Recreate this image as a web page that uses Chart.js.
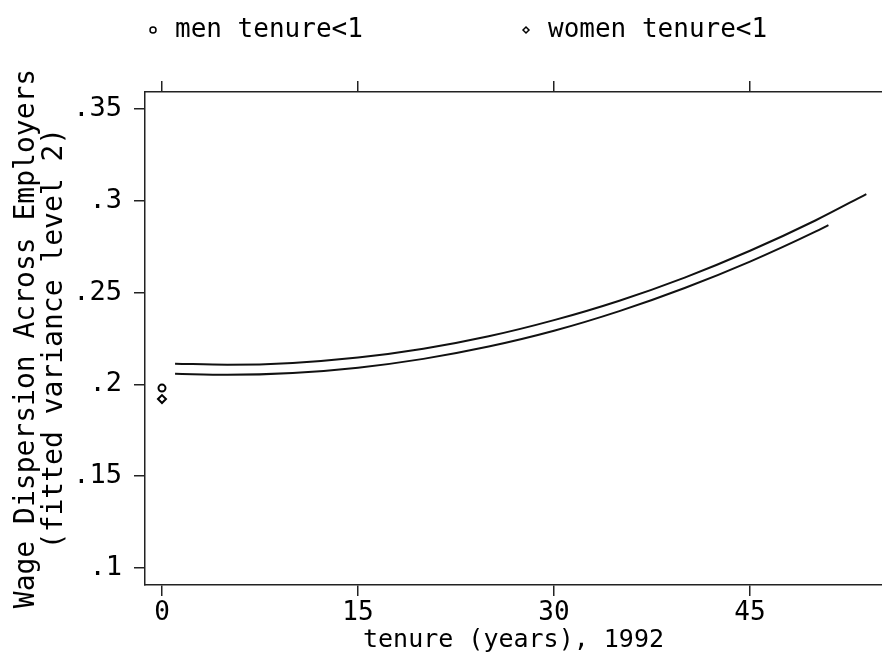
<!DOCTYPE html>
<html>
<head>
<meta charset="utf-8">
<script src="https://cdn.jsdelivr.net/npm/chart.js@4.4.1/dist/chart.umd.min.js"></script>
<style>
  html, body { margin: 0; padding: 0; background: #fff; }
  canvas { display: block; }
</style>
</head>
<body>
<canvas id="wageChart" width="882" height="659"></canvas>
<script>
// fitted level-2 variance by tenure, one curve per sex
const menTenure = [1, 5, 10, 15, 20, 25, 30, 35, 40, 45, 50, 53.9];
const menFit = [0.2113, 0.2107, 0.2117, 0.2146, 0.2194, 0.2262, 0.2350, 0.2456, 0.2582, 0.2728, 0.2893, 0.3037];
const womenTenure = [1, 5, 10, 15, 20, 25, 30, 35, 40, 45, 50, 51];
const womenFit = [0.2058, 0.2052, 0.2062, 0.2091, 0.2139, 0.2206, 0.2292, 0.2399, 0.2525, 0.2669, 0.2832, 0.2868];

// observed values for workers with tenure under one year
const shortTenure = [0];
const menShort = [0.1980];
const womenShort = [0.1920];

const xTicks = [0, 15, 30, 45];
const yTicks = [0.1, 0.15, 0.2, 0.25, 0.3, 0.35];

const FONT = '"DejaVu Sans Mono", monospace';

const toPoints = (xs, ys) => xs.map((x, i) => ({ x: x, y: ys[i] }));

// draws the marker + label row at the top of the canvas
const legendRow = {
  id: 'legendRow',
  afterDraw(chart, args, opts) {
    const ctx = chart.ctx;
    ctx.save();
    ctx.textBaseline = 'middle';
    ctx.textAlign = 'left';
    opts.items.forEach((item) => {
      const ds = chart.data.datasets[item.dataset];
      ctx.fillStyle = '#fff';
      ctx.strokeStyle = '#000';
      ctx.lineWidth = 1.5;
      Chart.helpers.drawPoint(ctx, { pointStyle: ds.pointStyle, radius: 3, borderWidth: 1.5 }, item.x, opts.y);
      ctx.fillStyle = '#000';
      ctx.font = opts.font;
      ctx.fillText(ds.label, item.x + 22, opts.y);
    });
    ctx.restore();
  },
};

const ctx = document.getElementById('wageChart').getContext('2d');

const chart = new Chart(ctx, {
  type: 'scatter',
  data: {
    datasets: [
      {
        label: 'men tenure<1',
        data: toPoints(shortTenure, menShort),
        pointStyle: 'circle',
        pointRadius: 3.5,
        borderWidth: 2,
        borderColor: '#000',
        backgroundColor: '#fff',
      },
      {
        label: 'women tenure<1',
        data: toPoints(shortTenure, womenShort),
        pointStyle: 'rectRot',
        pointRadius: 4,
        borderWidth: 2,
        borderColor: '#000',
        backgroundColor: '#fff',
      },
      {
        label: 'men fitted',
        data: toPoints(menTenure, menFit),
        showLine: true,
        pointRadius: 0,
        borderColor: '#111',
        borderWidth: 2,
        cubicInterpolationMode: 'monotone',
      },
      {
        label: 'women fitted',
        data: toPoints(womenTenure, womenFit),
        showLine: true,
        pointRadius: 0,
        borderColor: '#111',
        borderWidth: 2,
        cubicInterpolationMode: 'monotone',
      },
    ],
  },
  options: {
    responsive: false,
    animation: false,
    devicePixelRatio: 1,
    layout: { autoPadding: false, padding: { top: 81, left: 0, right: 0, bottom: 0 } },
    plugins: {
      legend: { display: false },
      tooltip: { enabled: false },
      legendRow: {
        y: 30,
        font: '26px ' + FONT,
        items: [
          { dataset: 0, x: 153 },
          { dataset: 1, x: 526 },
        ],
      },
    },
    scales: {
      x: {
        type: 'linear',
        position: 'bottom',
        min: -1.3,
        max: 55.1,
        afterBuildTicks: (scale) => { scale.ticks = xTicks.map((v) => ({ value: v })); },
        afterFit: (scale) => { scale.height = 74; },
        border: { display: true, color: '#222', width: 1.5 },
        grid: { drawOnChartArea: false, drawTicks: true, tickLength: 11, color: '#222', lineWidth: 1.5 },
        ticks: { color: '#000', padding: 2, font: { family: FONT, size: 26 } },
        title: {
          display: true,
          text: 'tenure (years), 1992',
          color: '#000',
          padding: { top: 0, bottom: 4 },
          font: { family: FONT, size: 25 },
        },
      },
      x2: {
        type: 'linear',
        position: 'top',
        min: -1.3,
        max: 55.1,
        afterBuildTicks: (scale) => { scale.ticks = xTicks.map((v) => ({ value: v })); },
        border: { display: true, color: '#222', width: 1.5 },
        grid: { drawOnChartArea: false, drawTicks: true, tickLength: 11, color: '#222', lineWidth: 1.5 },
        ticks: { display: false },
      },
      y: {
        type: 'linear',
        min: 0.0907,
        max: 0.3593,
        afterBuildTicks: (scale) => { scale.ticks = yTicks.map((v) => ({ value: v })); },
        afterFit: (scale) => { scale.width = 145; },
        border: { display: true, color: '#222', width: 1.5 },
        grid: { drawOnChartArea: false, drawTicks: true, tickLength: 11, color: '#222', lineWidth: 1.5 },
        ticks: {
          color: '#000',
          padding: 12,
          font: { family: FONT, size: 27 },
          callback: (v) => String(v).replace(/^0/, ''),
        },
        title: {
          display: true,
          text: ['Wage Dispersion Across Employers', '(fitted variance level 2)'],
          color: '#000',
          padding: { top: 13, bottom: 0 },
          font: { family: FONT, size: 28, lineHeight: 1.0 },
        },
      },
    },
  },
  plugins: [legendRow],
});
</script>
</body>
</html>
